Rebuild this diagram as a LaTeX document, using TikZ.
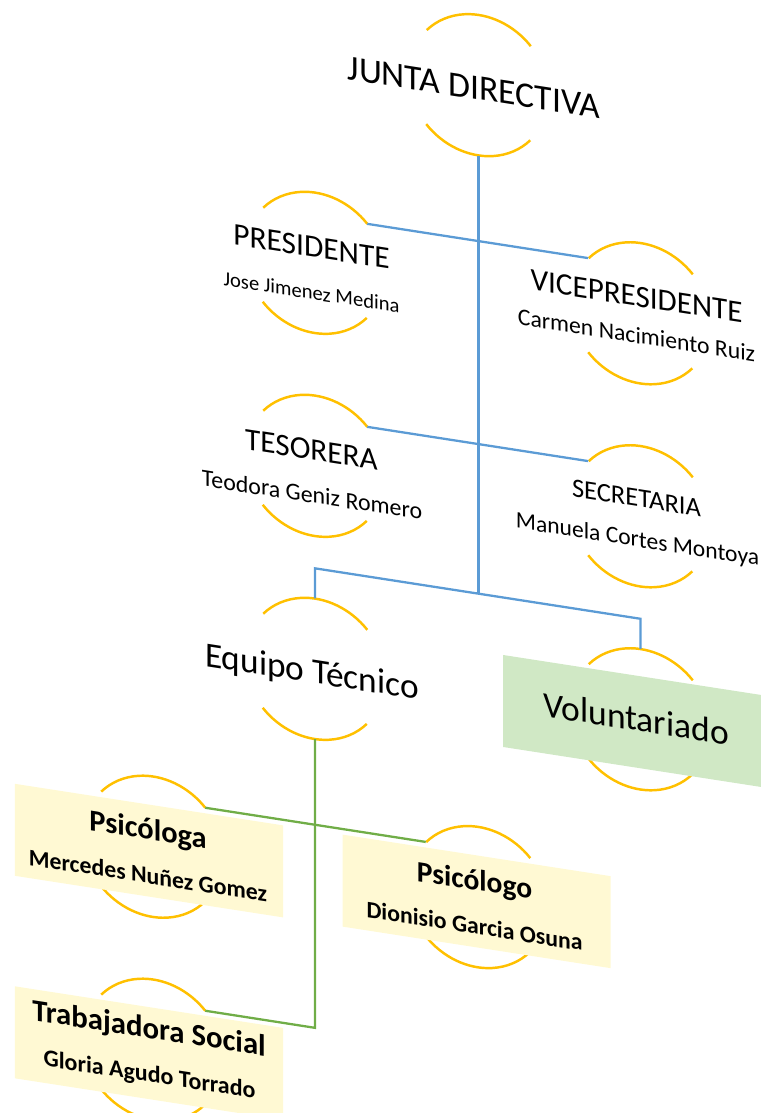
\documentclass[tikz,border=0pt]{standalone}
\usepackage{fontspec}
\setmainfont{Carlito}
\usepackage{xcolor}
\definecolor{ringgold}{HTML}{FFC000}
\definecolor{linkblue}{HTML}{5B9BD5}
\definecolor{linkgreen}{HTML}{70AD47}
\definecolor{boxyellow}{HTML}{FFF9D3}
\definecolor{boxgreen}{HTML}{D0E8C5}

\begin{document}
\begin{tikzpicture}[
    hub/.style={circle, minimum size=2.8cm, inner sep=0pt, transform shape},
    ring/.style={ringgold, line width=1.4pt},
    bluelink/.style={linkblue, line width=1.3pt},
    greenlink/.style={linkgreen, line width=1.3pt},
    card/.style={minimum width=5.36cm, minimum height=1.84cm, inner sep=0pt, transform shape},
    txt/.style={anchor=base, inner sep=0pt, transform shape},
  ]
  \useasboundingbox (0,0) rectangle (15.2,-22.26);

  \begin{scope}[yslant=-0.155]
    % Circles
    \node[hub] (junta) at (9.57,-0.22) {};
    \node[hub] (pres) at (6.30,-4.28) {};
    \node[hub] (vice) at (12.81,-4.28) {};
    \node[hub] (tes) at (6.30,-8.34) {};
    \node[hub] (sec) at (12.81,-8.34) {};
    \node[hub] (equipo) at (6.30,-12.40) {};
    \node[hub] (vol) at (12.81,-12.40) {};
    \node[hub] (psia) at (3.06,-16.46) {};
    \node[hub] (psio) at (9.56,-16.46) {};
    \node[hub] (trab) at (3.06,-20.52) {};

    \foreach \c in {junta,pres,vice,tes,sec,equipo,vol,psia,psio,trab} {
      \draw[ring] (\c.42) arc[start angle=42, end angle=138, radius=1.4cm];
      \draw[ring] (\c.222) arc[start angle=222, end angle=318, radius=1.4cm];
    }

    % Junta directiva
    \coordinate (split) at (9.57,-10.39);
    \coordinate (splitL) at (6.30,-10.39);
    \coordinate (splitR) at (12.81,-10.39);
    \draw[bluelink] (junta.south) -- (split);
    \draw[bluelink] (pres.42) -- (vice.138);
    \draw[bluelink] (tes.42) -- (sec.138);
    \draw[bluelink] (equipo.north) -- (splitL) -- (splitR) -- (vol.north);

    % Equipo tecnico
    \coordinate (drop) at (6.30,-19.58);
    \draw[greenlink] (equipo.south) -- (drop) -- (trab.42);
    \draw[greenlink] (psia.42) -- (psio.138);

    % Boxes
    \node[card, fill=boxgreen] (volbox) at (12.74,-12.46) {};
    \node[card, fill=boxyellow] (psiabox) at (2.98,-16.55) {};
    \node[card, fill=boxyellow] (psiobox) at (9.53,-16.55) {};
    \node[card, fill=boxyellow] (trabbox) at (2.98,-20.60) {};

    % Texts
    \node[txt, font=\fontsize{20.3}{24}\selectfont] (junta-t) at (9.48,-0.514) {JUNTA DIRECTIVA};
    \node[txt, font=\fontsize{17.9}{21}\selectfont] (pres-t) at (6.23,-4.17) {PRESIDENTE};
    \node[txt, font=\fontsize{11.7}{14}\selectfont] (pres-n) at (6.23,-5.02) {Jose Jimenez Medina};
    \node[txt, font=\fontsize{17.7}{21}\selectfont] (vice-t) at (12.73,-4.15) {VICEPRESIDENTE};
    \node[txt, font=\fontsize{13.5}{16}\selectfont] (vice-n) at (12.73,-4.89) {Carmen Nacimiento Ruiz};
    \node[txt, font=\fontsize{17.8}{21}\selectfont] (tes-t) at (6.23,-8.23) {TESORERA};
    \node[txt, font=\fontsize{13.6}{16}\selectfont] (tes-n) at (6.24,-9.09) {Teodora Geniz Romero};
    \node[txt, font=\fontsize{15.1}{18}\selectfont] (sec-t) at (12.73,-8.16) {SECRETARIA};
    \node[txt, font=\fontsize{13.4}{16}\selectfont] (sec-n) at (12.75,-8.96) {Manuela Cortes Montoya};
    \node[txt, font=\fontsize{20.1}{24}\selectfont] (equipo-t) at (6.24,-12.69) {Equipo Técnico};
    \node[txt, font=\fontsize{20.2}{24}\selectfont] (vol-t) at (12.72,-12.64) {Voluntariado};
    \node[txt, font=\bfseries\fontsize{17.3}{21}\selectfont] (psia-t) at (2.96,-16.33) {Psicóloga};
    \node[txt, font=\bfseries\fontsize{13.5}{16}\selectfont] (psia-n) at (2.96,-17.21) {Mercedes Nuñez Gomez};
    \node[txt, font=\bfseries\fontsize{16.8}{20}\selectfont] (psio-t) at (9.49,-16.33) {Psicólogo};
    \node[txt, font=\bfseries\fontsize{13.5}{16}\selectfont] (psio-n) at (9.49,-17.21) {Dionisio Garcia Osuna};
    \node[txt, font=\bfseries\fontsize{17.5}{21}\selectfont] (trab-t) at (2.98,-20.30) {Trabajadora Social};
    \node[txt, font=\bfseries\fontsize{13.6}{16}\selectfont] (trab-n) at (2.99,-21.18) {Gloria Agudo Torrado};
  \end{scope}
\end{tikzpicture}
\end{document}
